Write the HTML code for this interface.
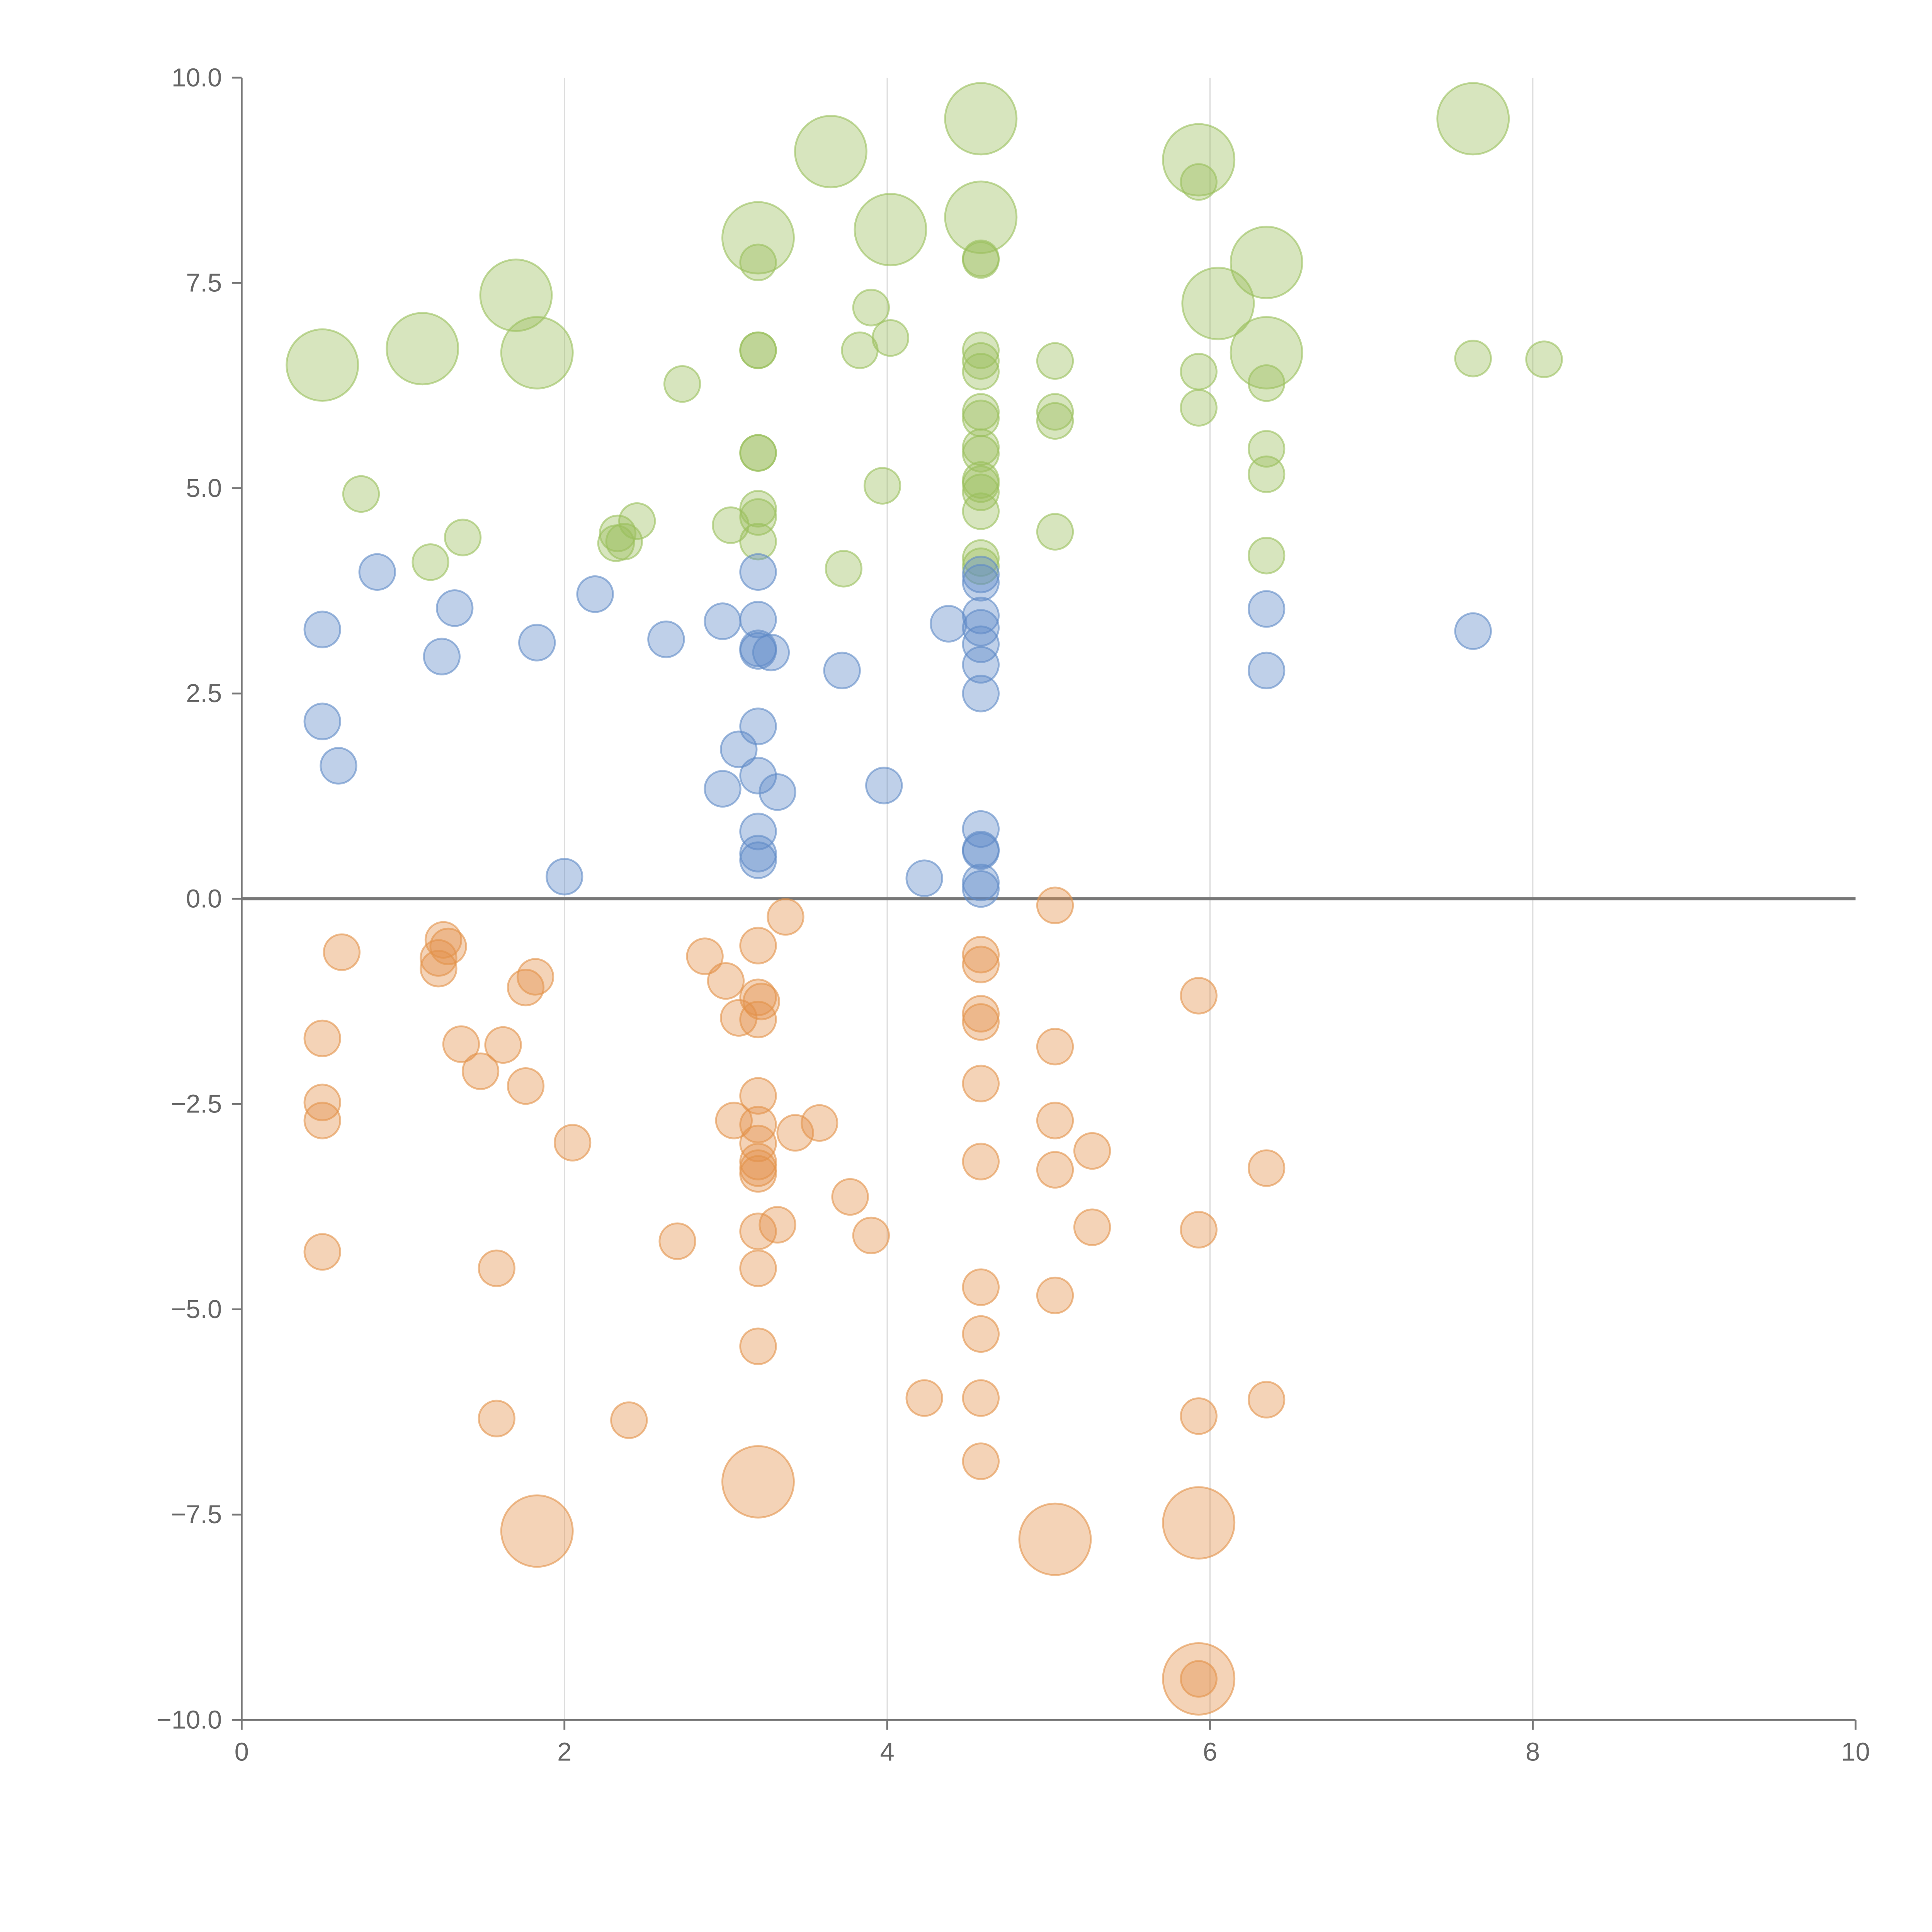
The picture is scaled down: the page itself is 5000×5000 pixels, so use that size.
<!DOCTYPE html>
<html><head><meta charset="utf-8">
<style>
html,body{margin:0;padding:0;background:#fff;}
svg{display:block;}
text{font-family:"Liberation Sans",sans-serif;fill:#666;}
</style></head>
<body>
<svg id="chart" width="5000" height="5000" viewBox="0 0 1567 1567" xmlns="http://www.w3.org/2000/svg">
<g id="grid"></g>
<g id="axes"></g>
<g id="marks"></g>
</svg>
<script>
// data: [x, y, size] size 1 = small, 2 = large
const greenPoints = [
[0.5,6.5,2],[1.12,6.7,2],[1.7,7.35,2],[1.83,6.65,2],[3.2,8.05,2],[3.65,9.1,2],[4.02,8.15,2],[4.58,9.5,2],[4.58,8.3,2],[5.93,9.0,2],[6.05,7.25,2],[6.35,7.75,2],[6.35,6.65,2],[7.63,9.5,2],
[0.74,4.93,1],[1.17,4.1,1],[1.37,4.4,1],[2.33,4.45,1],[2.32,4.33,1],[2.37,4.35,1],[2.45,4.6,1],[2.73,6.27,1],[3.03,4.55,1],[3.2,7.75,1],[3.2,6.68,1],[3.2,6.68,1],[3.2,5.43,1],[3.2,5.43,1],[3.2,4.75,1],[3.2,4.65,1],[3.2,4.35,1],[3.73,4.02,1],[3.83,6.68,1],[3.9,7.2,1],[3.97,5.03,1],[4.02,6.83,1],[4.58,7.8,1],[4.58,7.78,1],[4.58,6.68,1],[4.58,6.55,1],[4.58,6.42,1],[4.58,5.93,1],[4.58,5.85,1],[4.58,5.5,1],[4.58,5.42,1],[4.58,5.1,1],[4.58,5.05,1],[4.58,4.95,1],[4.58,4.72,1],[4.58,4.15,1],[4.58,4.05,1],[5.04,6.55,1],[5.04,5.93,1],[5.04,5.82,1],[5.04,4.47,1],[5.93,8.73,1],[5.93,6.42,1],[5.93,5.98,1],[6.35,6.28,1],[6.35,5.48,1],[6.35,5.17,1],[6.35,4.18,1],[7.63,6.58,1],[8.07,6.57,1]
];
const bluePoints = [
[0.5,3.28,1],[0.5,2.16,1],[0.6,1.62,1],[0.84,3.98,1],[1.24,2.95,1],[1.32,3.54,1],[1.83,3.12,1],[2.0,0.27,1],[2.19,3.71,1],[2.63,3.16,1],[2.98,3.38,1],[2.98,1.34,1],[3.08,1.82,1],[3.2,3.98,1],[3.2,3.4,1],[3.2,3.05,1],[3.2,3.02,1],[3.28,3.0,1],[3.2,2.1,1],[3.2,1.5,1],[3.32,1.3,1],[3.2,0.82,1],[3.2,0.55,1],[3.2,0.47,1],[3.72,2.78,1],[3.98,1.38,1],[4.23,0.25,1],[4.38,3.35,1],[4.58,3.95,1],[4.58,3.85,1],[4.58,3.45,1],[4.58,3.3,1],[4.58,3.1,1],[4.58,2.85,1],[4.58,2.5,1],[4.58,0.85,1],[4.58,0.6,1],[4.58,0.58,1],[4.58,0.2,1],[4.58,0.12,1],[6.35,3.53,1],[6.35,2.78,1],[7.63,3.26,1]
];
const orangePoints = [
[0.5,-1.7,1],[0.5,-2.48,1],[0.5,-2.7,1],[0.5,-4.3,1],[0.62,-0.65,1],[1.22,-0.72,1],[1.22,-0.85,1],[1.25,-0.5,1],[1.28,-0.58,1],[1.36,-1.77,1],[1.48,-2.1,1],[1.58,-4.5,1],[1.58,-6.33,1],[1.62,-1.78,1],[1.76,-1.08,1],[1.76,-2.28,1],[1.82,-0.95,1],[1.83,-7.7,2],[2.05,-2.97,1],[2.4,-6.35,1],[2.7,-4.17,1],[2.87,-0.7,1],[3.0,-1.0,1],[3.05,-2.7,1],[3.08,-1.45,1],[3.2,-0.57,1],[3.2,-1.2,1],[3.22,-1.25,1],[3.2,-1.47,1],[3.2,-2.4,1],[3.2,-2.75,1],[3.2,-2.98,1],[3.2,-3.2,1],[3.2,-3.28,1],[3.2,-3.35,1],[3.2,-4.05,1],[3.2,-4.5,1],[3.2,-5.45,1],[3.2,-7.1,2],[3.32,-3.97,1],[3.37,-0.22,1],[3.43,-2.85,1],[3.58,-2.73,1],[3.77,-3.63,1],[3.9,-4.1,1],[4.23,-6.08,1],[4.58,-0.68,1],[4.58,-0.8,1],[4.58,-1.4,1],[4.58,-1.5,1],[4.58,-2.25,1],[4.58,-3.2,1],[4.58,-4.73,1],[4.58,-5.3,1],[4.58,-6.08,1],[4.58,-6.85,1],[5.04,-0.08,1],[5.04,-1.8,1],[5.04,-2.7,1],[5.04,-3.3,1],[5.04,-4.83,1],[5.04,-7.8,2],[5.27,-3.07,1],[5.27,-4.0,1],[5.93,-1.18,1],[5.93,-4.03,1],[5.93,-6.3,1],[5.93,-7.6,2],[5.93,-9.5,2],[5.93,-9.5,1],[6.35,-3.28,1],[6.35,-6.1,1]
];
const xTicks = [0,2,4,6,8,10];
const yTicks = [10,7.5,5,2.5,0,-2.5,-5,-7.5,-10];
const yTickLabels = ["10.0","7.5","5.0","2.5","0.0","\u22122.5","\u22125.0","\u22127.5","\u221210.0"];

const NS="http://www.w3.org/2000/svg";
const X0=196,X1=1505,Y0=1395,Y1=63;
const xs=v=>X0+(v-0)/(10-0)*(X1-X0);
const ys=v=>Y0-(v+10)/20*(Y0-Y1);
function mk(tag,attrs,parent){const e=document.createElementNS(NS,tag);for(const k in attrs)e.setAttribute(k,attrs[k]);parent.appendChild(e);return e;}
const grid=document.getElementById('grid'),axes=document.getElementById('axes'),marks=document.getElementById('marks');

xTicks.forEach(t=>{
  if(t>0&&t<10){const l=mk('line',{x1:xs(t),x2:xs(t),y1:Y1,y2:Y0,stroke:'#ddd','stroke-width':1},grid);
  
  }
  const tk=mk('line',{x1:xs(t),x2:xs(t),y1:Y0,y2:Y0+8,stroke:'#777','stroke-width':1.5},axes);
  
  
  const tx=mk('text',{x:xs(t),y:Y0+33,'text-anchor':'middle','font-size':21},axes);
  tx.textContent=t;
  
  
});
yTicks.forEach((t,i)=>{
  const tk=mk('line',{x1:X0-8,x2:X0,y1:ys(t),y2:ys(t),stroke:'#777','stroke-width':1.5},axes);
  
  
  const tx=mk('text',{x:X0-16,y:ys(t)+7,'text-anchor':'end','font-size':21},axes);
  tx.textContent=yTickLabels[i];
  
  
});
let a=mk('line',{x1:X0,x2:X0,y1:Y1,y2:Y0,stroke:'#777','stroke-width':1.5},axes);


a=mk('line',{x1:X0,x2:X1,y1:Y0,y2:Y0,stroke:'#777','stroke-width':1.5},axes);


a=mk('line',{x1:X0,x2:X1,y1:ys(0),y2:ys(0),stroke:'#777','stroke-width':2.5},axes);



function series(pts,color,name){
  pts.forEach(p=>{
    const c=mk('circle',{cx:xs(p[0]),cy:ys(p[1]),r:p[2]===2?29:14.5,fill:color,'fill-opacity':0.4,stroke:color,'stroke-opacity':0.6,'stroke-width':1.5},marks);
    
    
  });
}
series(greenPoints,'#9abf5c','green-bubble');
series(bluePoints,'#5f8ac7','blue-bubble');
series(orangePoints,'#e3924a','orange-bubble');
</script>
</body></html>
